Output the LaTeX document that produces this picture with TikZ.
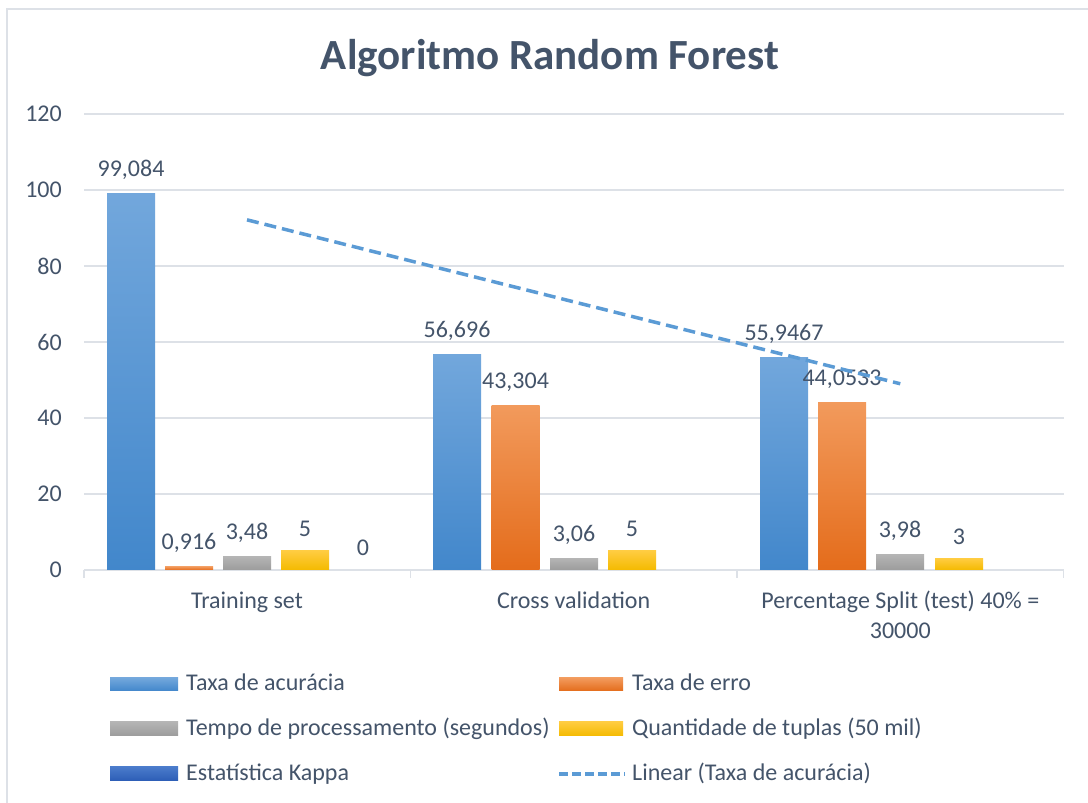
\documentclass[tikz,border=0pt]{standalone}
\usepackage{fontspec}
\setmainfont{Carlito}
\usepackage{tikz}
\usetikzlibrary{positioning}
\definecolor{txtcol}{HTML}{44546A}
\definecolor{gridcol}{HTML}{DDE1E7}
\definecolor{blueT}{HTML}{72A7DC}
\definecolor{blueB}{HTML}{4287CB}
\definecolor{orgT}{HTML}{F29A5C}
\definecolor{orgB}{HTML}{E46C1B}
\definecolor{grayT}{HTML}{B4B4B4}
\definecolor{grayB}{HTML}{9C9C9C}
\definecolor{yelT}{HTML}{FFCC40}
\definecolor{yelB}{HTML}{F4BA00}
\definecolor{kapT}{HTML}{4A7BCB}
\definecolor{kapB}{HTML}{2C5DB6}
\definecolor{trendcol}{HTML}{5B9BD5}
% one column of the chart: name, centre x, value, style, label
\newcommand{\colbar}[5]{%
  \shade[#4] (#2-24,0) rectangle (#2+24,#3);
  \node[vlab, above=14pt] (#1) at (#2,#3) {#5};
}

\begin{document}
\begin{tikzpicture}[x=1pt, y=1pt,
    lbl/.style={font=\fontsize{24}{30}\selectfont, text=txtcol, inner sep=0pt},
    vlab/.style={lbl},
    barA/.style={top color=blueT, bottom color=blueB},
    barB/.style={top color=orgT, bottom color=orgB},
    barC/.style={top color=grayT, bottom color=grayB},
    barD/.style={top color=yelT, bottom color=yelB},
    barE/.style={top color=kapT, bottom color=kapB},
    grid/.style={draw=gridcol, line width=1.5pt},
    trend/.style={draw=trendcol, line width=3.5pt, dash pattern=on 12pt off 6pt}
]
\useasboundingbox (0,0) rectangle (1088,803);
\fill[white] (0,0) rectangle (1088,803);
% chart frame (cut at right and bottom)
\draw[draw=gridcol, line width=1.5pt] (7,0) -- (7,794) -- (1088,794);

% Title
\node[lbl, font=\fontsize{43}{50}\selectfont\bfseries, anchor=base] (title) at (550,733) {Algoritmo Random Forest};

\begin{scope}[shift={(0,233)}, y=3.8pt]
  % grid and axis
  \foreach \v in {20,40,...,120}
    \draw[grid] (84,\v) -- (1064,\v);
  \foreach \v in {0,20,...,120}
    \node[lbl, anchor=east] (ytick\v) at (62,\v) {\v};
  \draw[grid] (84,0) -- (1064,0);
  \foreach \tx in {84,410.3,737,1063.7}
    \draw[grid] (\tx,0) -- (\tx,-2.1);

  % Training set
  \colbar{ts1}{131}{99.084}{barA}{99,084}
  \colbar{ts2}{189}{0.916}{barB}{0,916}
  \colbar{ts3}{247}{3.48}{barC}{3,48}
  \colbar{ts4}{305}{5}{barD}{5}
  \node[vlab, above=14pt] (ts5) at (363,0) {0};
  % Cross validation
  \colbar{cv1}{457}{56.696}{barA}{56,696}
  \colbar{cv2}{515.5}{43.304}{barB}{43,304}
  \colbar{cv3}{574}{3.06}{barC}{3,06}
  \colbar{cv4}{632}{5}{barD}{5}
  % Percentage split
  \colbar{ps1}{784}{55.9467}{barA}{55,9467}
  \colbar{ps2}{842}{44.0533}{barB}{44,0533}
  \colbar{ps3}{900}{3.98}{barC}{3,98}
  \colbar{ps4}{959}{3}{barD}{3}

  % Linear trend of accuracy
  \coordinate (trendA) at (247,92.144);
  \coordinate (trendB) at (900.3,49.007);
  \draw[trend] (trendA) -- (trendB);
\end{scope}

% Categories
\node[lbl, anchor=base] (cat1) at (247,194) {Training set};
\node[lbl, anchor=base] (cat2) at (573.6,194) {Cross validation};
\node[lbl, anchor=base, align=center] (cat3) at (900.3,164) {Percentage Split (test) 40\% =\\30000};

% Legend
\shade[barA] (110,112) rectangle (178,125);
\node[lbl, anchor=base west] (leg1) at (186,112) {Taxa de acurácia};
\shade[barB] (559,112) rectangle (623,125);
\node[lbl, anchor=base west] (leg2) at (632,112) {Taxa de erro};
\shade[barC] (110,67) rectangle (178,81);
\node[lbl, anchor=base west] (leg3) at (186,67) {Tempo de processamento (segundos)};
\shade[barD] (559,67) rectangle (623,81);
\node[lbl, anchor=base west] (leg4) at (632,67) {Quantidade de tuplas (50 mil)};
\shade[barE] (110,22) rectangle (178,36);
\node[lbl, anchor=base west] (leg5) at (186,22) {Estatística Kappa};
\coordinate (legA) at (559,29);
\coordinate (legB) at (625,29);
\draw[trend, dash pattern=on 9pt off 4pt] (legA) -- (legB);
\node[lbl, anchor=base west] (leg6) at (632,22) {Linear (Taxa de acurácia)};
\end{tikzpicture}
\end{document}
